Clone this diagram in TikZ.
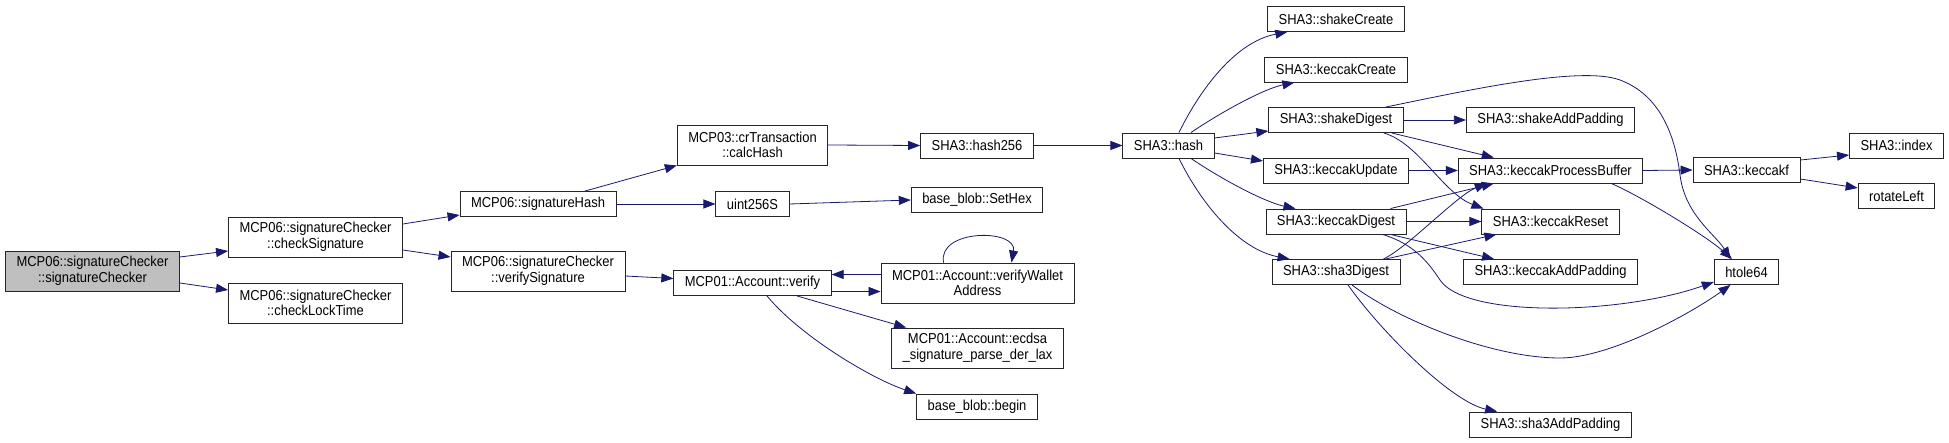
\documentclass[tikz,border=0pt]{standalone}
\usepackage{fontspec}
\setmainfont{Liberation Sans}[FakeStretch=0.9]
\usepackage{tikz}
\usetikzlibrary{arrows.meta, calc}
\definecolor{edgeblue}{HTML}{191970}

\begin{document}
\begin{tikzpicture}[x=1pt, y=-1pt,
    fn/.style={draw=black!85, line width=0.9pt, fill=white, font=\fontsize{14.4}{15.5}\selectfont,
        align=center, inner xsep=11pt, inner ysep=2pt, minimum height=25pt},
    fn2/.style={fn, minimum height=40pt},
    root/.style={fn2, fill=black!25},
    call/.style={draw=edgeblue, line width=0.8pt, -{Triangle[length=12pt, width=9pt]}}]
\useasboundingbox (0,0) rectangle (1949,443);

% caller side
\node[root] (sigChecker) at (92.5,271) {MCP06::signatureChecker\\::signatureChecker};
\node[fn2] (checkSig) at (315.5,237) {MCP06::signatureChecker\\::checkSignature};
\node[fn2] (checkLock) at (315.5,303) {MCP06::signatureChecker\\::checkLockTime};
\node[fn] (sigHash) at (538,204) {MCP06::signatureHash};
\node[fn2] (verifySig) at (538,271) {MCP06::signatureChecker\\::verifySignature};
\node[fn2] (calcHash) at (752.5,145) {MCP03::crTransaction\\::calcHash};
\node[fn] (uintS) at (752.5,204) {uint256S};
\node[fn] (verify) at (752.5,283) {MCP01::Account::verify};
\node[fn] (hashTwo) at (977,145.5) {SHA3::hash256};
\node[fn] (setHex) at (977,200) {base\_blob::SetHex};
\node[fn2] (wallet) at (977.5,283) {MCP01::Account::verifyWallet\\Address};
\node[fn2] (ecdsa) at (977.5,348) {MCP01::Account::ecdsa\\\_signature\_parse\_der\_lax};
\node[fn] (blobBegin) at (977,406.5) {base\_blob::begin};

% SHA3 side
\node[fn] (hash) at (1168.5,145.5) {SHA3::hash};
\node[fn] (shakeCreate) at (1336,19) {SHA3::shakeCreate};
\node[fn] (keccakCreate) at (1336,69.5) {SHA3::keccakCreate};
\node[fn] (shakeDigest) at (1336,120) {SHA3::shakeDigest};
\node[fn] (keccakUpdate) at (1336,170.5) {SHA3::keccakUpdate};
\node[fn] (keccakDigest) at (1336,221.5) {SHA3::keccakDigest};
\node[fn] (sha3Digest) at (1336,272) {SHA3::sha3Digest};
\node[fn] (shakePad) at (1550.5,120) {SHA3::shakeAddPadding};
\node[fn] (procBuf) at (1550.5,170.5) {SHA3::keccakProcessBuffer};
\node[fn] (keccakReset) at (1550.5,221.5) {SHA3::keccakReset};
\node[fn] (keccakPad) at (1550.5,272) {SHA3::keccakAddPadding};
\node[fn] (sha3Pad) at (1550.5,424.5) {SHA3::sha3AddPadding};
\node[fn] (keccakf) at (1746.5,170) {SHA3::keccakf};
\node[fn] (htole) at (1746.5,272) {htole64};
\node[fn] (index) at (1896.5,145.5) {SHA3::index};
\node[fn] (rotLeft) at (1896.5,196) {rotateLeft};

% calls
\draw[call] ([yshift=14pt]sigChecker.east) -- ([yshift=-14pt]checkSig.west);
\draw[call] ([yshift=-12pt]sigChecker.east) -- ([yshift=13pt]checkLock.west);
\draw[call] ([yshift=13pt]checkSig.east) -- ([yshift=-11pt]sigHash.west);
\draw[call] ([yshift=-13pt]checkSig.east) -- ([yshift=14pt]verifySig.west);
\draw[call] ([xshift=47pt]sigHash.north) -- (calcHash.south west);
\draw[call] (sigHash.east) -- (uintS.west);
\draw[call] ([yshift=-5pt]verifySig.east) -- ([yshift=4.5pt]verify.west);
\draw[call] (calcHash.east) -- (hashTwo.west);
\draw[call] (uintS.east) -- (setHex.west);
\draw[call] (hashTwo.east) -- (hash.west);
\draw[call] ([yshift=-8.5pt]verify.east) -- ([yshift=-8.5pt]wallet.west);
\draw[call] ([yshift=8.5pt]wallet.west) -- ([yshift=8.5pt]verify.east);
\draw[call] ([xshift=-34pt]wallet.north) .. controls +(-6,-34) and +(6,-34) .. ([xshift=34pt]wallet.north);
\draw[call] ([xshift=44.5pt]verify.south) -- ([xshift=15pt]ecdsa.north west);
\draw[call] ([xshift=14.5pt]verify.south) .. controls +(33,40) and +(-45,-15) .. (blobBegin.north west);

\draw[call] ([xshift=10.5pt]hash.north) .. controls +(21,-43) and +(-52,10) .. ([xshift=20pt]shakeCreate.south west);
\draw[call] ([xshift=22.5pt]hash.north) .. controls +(34,-23) and +(-29,6) .. ([xshift=30pt]keccakCreate.south west);
\draw[call] ([yshift=7.5pt]hash.east) -- ([yshift=-11pt]shakeDigest.west);
\draw[call] ([yshift=-7.5pt]hash.east) -- ([yshift=9.5pt]keccakUpdate.west);
\draw[call] ([xshift=22.5pt]hash.south) .. controls +(34,23) and +(-29,-6) .. ([xshift=30pt]keccakDigest.north west);
\draw[call] ([xshift=10.5pt]hash.south) .. controls +(21,43) and +(-52,-10) .. ([xshift=18pt]sha3Digest.north west);

\draw[call] (shakeDigest.east) -- (shakePad.west);
\draw[call] ([xshift=-12pt]shakeDigest.south east) -- ([xshift=36pt]procBuf.north west);
\draw[call] ([xshift=-20pt]shakeDigest.south east) .. controls +(35,10) and +(-40,-15) .. ([xshift=2pt]keccakReset.north west);
\draw[call] ([xshift=-18pt]shakeDigest.north east) .. controls (1460,92) and (1580,65) .. (1620,80)
    .. controls (1660,95) and (1675,135) .. (1680,175) .. controls (1685,215) and (1715,234) .. ([xshift=-16pt]htole.north);
\draw[call] (keccakUpdate.east) -- (procBuf.west);
\draw[call] ([xshift=-16pt]keccakDigest.north east) -- ([xshift=36pt]procBuf.south west);
\draw[call] (keccakDigest.east) -- (keccakReset.west);
\draw[call] ([xshift=-16pt]keccakDigest.south east) -- ([xshift=31pt]keccakPad.north west);
\draw[call] ([xshift=-24pt]keccakDigest.south east) .. controls (1414,244) and (1428,262) .. (1440,280)
    .. controls (1465,318) and (1620,315) .. ([yshift=-10pt]htole.west);
\draw[call] ([xshift=-17pt]sha3Digest.north east) .. controls +(25,-12) and +(-30,12) .. ([xshift=29pt]procBuf.south west);
\draw[call] ([xshift=-15pt]sha3Digest.north east) -- ([xshift=15pt]keccakReset.south west);
\draw[call] ([xshift=12pt]sha3Digest.south) .. controls +(30,43) and +(-47,-10) .. ([xshift=28pt]sha3Pad.north west);
\draw[call] ([xshift=16pt]sha3Digest.south) .. controls (1395,318) and (1490,358) .. (1560,358)
    .. controls (1610,358) and (1690,314) .. ([xshift=-16pt]htole.south);

\draw[call] (procBuf.east) -- (keccakf.west);
\draw[call] ([xshift=-32pt]procBuf.south east) .. controls +(28,12) and +(-27,-24) .. ([xshift=-14.5pt]htole.north);
\draw[call] ([yshift=10pt]keccakf.east) -- ([yshift=-9.5pt]index.west);
\draw[call] ([yshift=-9pt]keccakf.east) -- ([yshift=8pt]rotLeft.west);
\end{tikzpicture}
\end{document}
